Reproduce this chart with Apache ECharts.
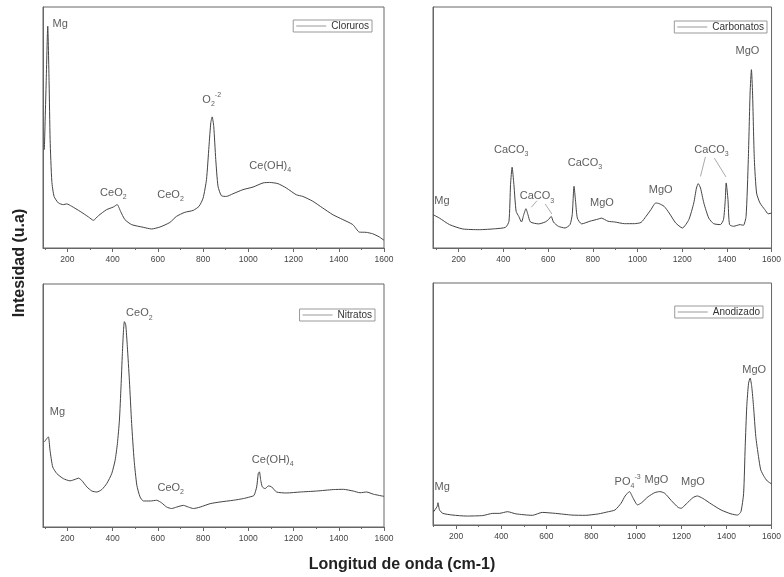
<!DOCTYPE html>
<html>
<head>
<meta charset="utf-8">
<script src="https://cdn.jsdelivr.net/npm/echarts@6/dist/echarts.min.js"></script>
<style>
html, body { margin: 0; padding: 0; background: #fff; }
#chart { width: 784px; height: 577px; }
</style>
</head>
<body>
<div id="chart"></div>
<script>
// Raman spectra: wavenumber (cm-1) against intensity (arbitrary units, 0-100 of each panel)
const cloruros = [[98,40.8],[106,68.5],[113,92],[119,68.5],[123.5,45],[131,27.7],[141,21.4],[160,18.7],[182,18],[197,18.3],[219,17.3],[256,15.2],[293,12.9],[315,11.5],[337,13.4],[373,15.9],[403,17.0],[420,18.0],[435,15.2],[454,11.8],[484,9.7],[535,8.6],[572,7.9],[609,8.7],[653,10.6],[682,13.1],[719,14.8],[756,15.6],[782,17.3],[800,20.7],[815,28.4],[826,42.2],[834,51.9],[840,54.4],[847,50.5],[856,36.7],[866,25.6],[881,21.7],[903,21.4],[932,22.5],[976,24.2],[1021,25.3],[1065,27.0],[1094,27.2],[1131,26.7],[1168,24.9],[1212,22.1],[1241,21.4],[1285,19.4],[1329,16.6],[1374,13.8],[1418,11.8],[1462,9.7],[1491,6.6],[1521,6.5],[1550,5.9],[1579,4.6],[1600,3.2]];

const carbonatos = [[86,13.8],[114,12.4],[159,9.7],[218,7.9],[292,7.6],[366,8.0],[410,8.6],[425,11.1],[432,26.3],[439,33.5],[447,26.3],[457,15.2],[469,13.1],[481,10.8],[491,13.8],[501,16.3],[510,13.8],[521,10.8],[558,10.0],[587,10.8],[602,11.8],[614,13.1],[624,10.8],[646,9.0],[676,8.3],[698,9.7],[708,13.8],[716,25.6],[723,19.4],[731,12.4],[750,10.0],[787,11.1],[824,12.0],[839,12.4],[868,11.1],[898,10.8],[942,10.1],[986,10.1],[1016,10.6],[1038,13.1],[1060,15.9],[1082,18.7],[1097,18.4],[1119,17.3],[1142,14.5],[1171,10.4],[1201,8.3],[1230,11.8],[1252,18.7],[1264,24.9],[1272,26.7],[1282,24.9],[1297,18.7],[1319,12.4],[1341,10.1],[1371,9.7],[1385,11.8],[1393,20.1],[1397,27.0],[1405,20.1],[1412,9.7],[1430,9.0],[1459,9.7],[1474,9.4],[1486,13.1],[1496,36.7],[1504,64.3],[1510,74.0],[1515,64.3],[1523,36.7],[1533,22.8],[1548,18.7],[1570,15.9],[1585,14.2],[1600,14.5]];

const nitratos = [[98,35.0],[109,36.4],[116,37.1],[123,31.6],[135,24.7],[153,22.0],[182,19.9],[212,19.0],[234,19.6],[249,20.1],[263,19.2],[286,16.5],[308,14.8],[330,14.4],[352,15.4],[374,17.9],[396,22.0],[411,27.5],[421,34.3],[430,44.0],[437,57.7],[443,71.4],[448,81.0],[452,84.5],[458,83.1],[465,74.2],[474,60.4],[484,42.6],[495,27.5],[507,17.2],[521,12.4],[536,10.7],[566,10.7],[595,11.0],[617,9.9],[639,8.2],[661,7.6],[683,8.2],[713,8.9],[735,8.2],[757,7.6],[787,8.2],[831,9.6],[875,10.3],[934,11.0],[978,11.7],[1008,12.4],[1025,13.0],[1037,16.5],[1044,22.0],[1049,22.7],[1055,19.2],[1062,16.5],[1074,15.8],[1089,16.9],[1103,16.5],[1125,14.4],[1170,14.0],[1229,14.4],[1302,14.8],[1376,15.4],[1420,15.5],[1464,14.8],[1494,14.1],[1523,14.4],[1553,13.5],[1600,12.6]];

const anodizado = [[100,5.5],[115,7.6],[119,9.2],[126,6.2],[141,4.8],[185,4.1],[244,3.7],[318,3.9],[362,4.8],[391,4.8],[428,5.5],[465,4.6],[538,4.0],[582,5.2],[641,4.8],[714,4.1],[773,4.0],[832,4.6],[876,5.5],[905,6.2],[932,9.0],[950,12.0],[969,13.8],[986,11.0],[1005,8.3],[1023,9.2],[1052,11.7],[1082,13.4],[1104,13.8],[1126,13.1],[1155,10.1],[1185,7.3],[1199,6.9],[1221,8.7],[1251,11.3],[1270,12.0],[1295,11.0],[1332,8.7],[1376,6.2],[1420,4.6],[1449,4.1],[1464,5.5],[1476,13.1],[1483,32.4],[1490,49.0],[1498,58.6],[1505,60.7],[1512,57.2],[1520,49.0],[1530,36.6],[1542,28.3],[1552,22.8],[1567,20.0],[1581,18.2],[1600,17.0]];

// peak assignments: [wavenumber, intensity, text]  (_x = subscript, ^x = superscript)
const clorurosLabels = [[168,93,'Mg'],[403,23,'CeO_2'],[656,22,'CeO_2'],[838,61.5,'O_2^-2'],[1097,34,'Ce(OH)_4']];
const carbonatosLabels = [[125,19.4,'Mg'],[435,40.8,'CaCO_3'],[550,21.4,'CaCO_3'],[765,35.3,'CaCO_3'],[841,18.7,'MgO'],[1104,24.2,'MgO'],[1331,40.8,'CaCO_3'],[1492,81.6,'MgO']];
const carbonatosLeaders = [[[525,16.9],[550,19.6]],[[587,18.3],[617,14.1]],[[1304,37.8],[1282,29.7]],[[1344,37.3],[1396,29.5]]];
const nitratosLabels = [[156,47.4,'Mg'],[518,88,'CeO_2'],[657,16.2,'CeO_2'],[1108,27.7,'Ce(OH)_4']];
const anodizadoLabels = [[138,15.9,'Mg'],[961,17.9,'PO_4^-3'],[1089,18.6,'MgO'],[1251,17.7,'MgO'],[1523,64.1,'MgO']];

const majorTicks = [200, 400, 600, 800, 1000, 1200, 1400, 1600];
const minorTicks = [100, 300, 500, 700, 900, 1100, 1300, 1500];

const font = 'Liberation Sans, Arial, sans-serif';
const frame = '#666';

const panels = [
  { name: 'Cloruros', data: cloruros, labels: clorurosLabels, min: 92, grid: { left: 43, top: 7, width: 341, height: 241 }, legend: { right: 412, top: 20 } },
  { name: 'Carbonatos', data: carbonatos, labels: carbonatosLabels, min: 85, grid: { left: 433, top: 7, width: 342, height: 241 }, legend: { right: 17, top: 21 } },
  { name: 'Nitratos', data: nitratos, labels: nitratosLabels, min: 92, grid: { left: 43, top: 284, width: 341, height: 243 }, legend: { right: 409, top: 309 } },
  { name: 'Anodizado', data: anodizado, labels: anodizadoLabels, min: 97, grid: { left: 433, top: 283, width: 341, height: 242 }, legend: { right: 21, top: 306 } }
];

// turn 'CeO_2' into rich text with a subscript
function toRich(txt) {
  return txt.split(/(_[^_^]+|\^[^_^]+)/).filter(s => s).map(s => {
    if (s[0] === '_') return '{s|' + s.slice(1) + '}';
    if (s[0] === '^') return '{p|' + s.slice(1) + '}';
    return '{n|' + s + '}';
  }).join('');
}

const rich = {
  n: { fontSize: 11, lineHeight: 16, verticalAlign: 'middle', color: '#333', fontFamily: font },
  s: { fontSize: 7, lineHeight: 8, verticalAlign: 'bottom', color: '#333', fontFamily: font },
  p: { fontSize: 7, lineHeight: 8, verticalAlign: 'top', color: '#333', fontFamily: font }
};

const grid = [], xAxis = [], yAxis = [], legend = [], series = [];

panels.forEach((p, i) => {
  grid.push(Object.assign({ show: true, borderColor: frame, borderWidth: 1 }, p.grid));
  xAxis.push({
    type: 'value', gridIndex: i, min: p.min, max: 1600,
    axisLine: { lineStyle: { color: frame } },
    splitLine: { show: false },
    axisTick: { customValues: majorTicks, length: 4, lineStyle: { color: frame } },
    axisLabel: { customValues: majorTicks, fontSize: 8.5, color: '#444', margin: 7, fontFamily: font, formatter: v => String(v) }
  });
  xAxis.push({
    type: 'value', gridIndex: i, min: p.min, max: 1600, position: 'bottom',
    axisLine: { show: false },
    splitLine: { show: false },
    axisTick: { customValues: minorTicks, length: 2, lineStyle: { color: frame } },
    axisLabel: { show: false }
  });
  yAxis.push({
    type: 'value', gridIndex: i, min: 0, max: 100,
    axisLine: { show: true, lineStyle: { color: frame } },
    axisTick: { show: false }, axisLabel: { show: false }, splitLine: { show: false }
  });
  legend.push(Object.assign({
    data: [p.name],
    borderColor: '#999', borderWidth: 1, padding: [1, 3, 1, 3],
    icon: 'path://M0,0H30V1H0Z',
    itemWidth: 30, itemHeight: 1, itemGap: 0,
    itemStyle: { color: '#999' },
    textStyle: { fontSize: 10, color: '#333', fontFamily: font }
  }, p.legend));
  series.push({
    name: p.name, type: 'line', xAxisIndex: 2 * i, yAxisIndex: i,
    data: p.data, symbol: 'none', smooth: 0.2,
    lineStyle: { color: '#444', width: 1 }, itemStyle: { color: '#444' }
  });
  series.push({
    type: 'scatter', xAxisIndex: 2 * i, yAxisIndex: i,
    data: p.labels, symbolSize: 1, itemStyle: { color: 'transparent' },
    silent: true,
    label: { show: true, position: 'inside', formatter: d => toRich(d.data[2]), rich: rich }
  });
});

series.push({
  type: 'lines', coordinateSystem: 'cartesian2d', xAxisIndex: 2, yAxisIndex: 1,
  data: carbonatosLeaders.map(c => ({ coords: c })),
  lineStyle: { color: '#555', width: 1 }, silent: true
});

const myChart = echarts.init(document.getElementById('chart'));
myChart.setOption({
  animation: false,
  backgroundColor: '#fff',
  grid, xAxis, yAxis, legend, series,
  graphic: [
    { type: 'text', x: 20, y: 263, rotation: Math.PI / 2,
      style: { text: 'Intesidad (u.a)', font: 'bold 16px ' + font, fill: '#222', align: 'center', verticalAlign: 'middle' } },
    { type: 'text', x: 402, y: 565,
      style: { text: 'Longitud de onda (cm-1)', font: 'bold 16px ' + font, fill: '#222', align: 'center', verticalAlign: 'middle' } }
  ]
});
</script>
</body>
</html>
